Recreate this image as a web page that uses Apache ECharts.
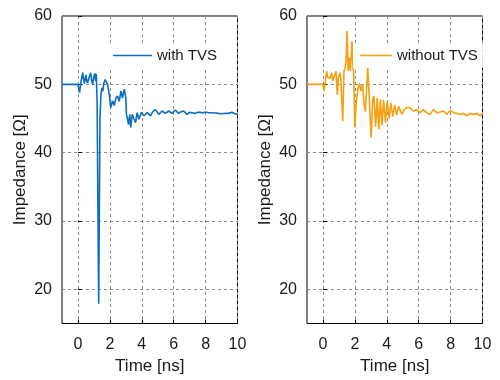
<!DOCTYPE html>
<html><head><meta charset="utf-8">
<script src="https://cdn.jsdelivr.net/npm/echarts@6/dist/echarts.min.js"></script>
<style>html,body{margin:0;padding:0;background:#fff}#c{width:500px;height:380px}</style>
</head><body><div id="c"></div>
<script>
const leftTime = [-1,0,0.05,0.1,0.2,0.3,0.35,0.4,0.5,0.55,0.6,0.7,0.8,0.85,0.92,0.98,1.05,1.1,1.15,1.2,1.3,1.38,1.44,1.5,1.56,1.62,1.71,1.78,1.86,1.96,2.06,2.17,2.27,2.38,2.48,2.59,2.69,2.79,2.9,3.0,3.04,3.1,3.17,3.25,3.31,3.4,3.5,3.61,3.71,3.82,3.98,4.13,4.34,4.54,4.7,4.86,5.06,5.27,5.48,5.69,5.9,6.1,6.31,6.47,6.63,6.83,7.0,7.15,7.35,7.5,7.67,7.82,7.98,8.2,8.4,8.6,8.8,9.02,9.25,9.44,9.65,9.85,10];
const leftZ = [50,50,50,48.8,50.5,51.7,50.8,50.1,51.4,50.5,50.2,51.0,51.7,50.6,50.0,51.0,51.6,50.5,51.5,47.5,17.9,45,48.5,49.5,49.0,50.2,50.7,50.3,50.0,48.5,46.6,47.6,46.9,48.0,48.3,47.5,49.0,48.0,49.3,48.0,45.6,45.0,44.1,45.6,43.7,45.6,45.0,44.4,45.85,44.9,45.9,45.4,45.85,45.4,46.0,46.3,45.6,46.1,45.75,46.1,45.75,46.25,45.75,46.0,46.1,45.6,45.9,45.85,45.75,45.9,45.9,45.8,45.95,45.85,45.85,45.8,45.75,45.7,45.75,45.75,45.9,45.7,45.6];
const rightTime = [-1,0,0.06,0.15,0.23,0.3,0.37,0.44,0.5,0.55,0.6,0.65,0.72,0.76,0.82,0.9,0.96,1.01,1.07,1.12,1.17,1.24,1.32,1.4,1.45,1.51,1.58,1.65,1.72,1.82,1.88,1.93,2.0,2.08,2.2,2.3,2.38,2.48,2.58,2.66,2.81,2.9,3.02,3.12,3.2,3.3,3.4,3.5,3.6,3.7,3.8,3.92,4.03,4.15,4.25,4.38,4.5,4.62,4.75,4.85,4.95,5.03,5.24,5.45,5.66,5.87,6.08,6.29,6.5,6.71,6.92,7.13,7.34,7.55,7.76,7.97,8.18,8.39,8.6,8.81,9.02,9.23,9.44,9.65,9.86,10];
const rightZ = [50,50,49.0,50.5,51.9,51.0,51.2,50.9,51.3,51.7,50.5,50.7,51.3,51.4,51.9,48.5,50.9,51.0,51.7,51.0,51.2,44.6,51.9,52.5,53.5,57.8,52.0,53.9,51.9,56.3,52.5,51.5,43.7,47.1,49.5,50.1,49.0,50.0,47.1,46.0,52.5,48.0,42.2,47.8,48.3,43.8,48.0,43.4,47.8,44.0,47.7,44.4,47.5,45.0,47.3,45.3,47.0,45.5,46.8,47.0,45.6,46.1,46.6,46.6,46.1,46.3,45.85,46.3,45.85,45.6,46.3,45.85,45.95,46.1,45.6,46.2,45.85,45.75,45.6,45.75,45.4,45.75,45.6,45.75,45.4,45.75];
const xTicks = [0,2,4,6,8,10];
const yTicks = [20,30,40,50,60];
const seriesNames = ['with TVS','without TVS'];
const seriesColors = ['#0b6fbd','#f5a00f'];
const xName = 'Time [ns]';
const yName = 'Impedance [Ω]';

const zip = (a,b) => a.slice(0, Math.min(a.length,b.length)).map((v,i)=>[v,b[i]]);
const font = 'Liberation Sans, Arial, Helvetica, sans-serif';
const txt = '#1a1a1a';
const gridLine = {show:true, lineStyle:{color:'#8a8a8a', type:[3,3], width:1}};

function xAxis(gi){
  return {type:'value', gridIndex:gi, min:-1, max:10,
    name:xName, nameLocation:'middle', nameGap:31,
    nameTextStyle:{fontSize:17, color:txt, fontFamily:font},
    axisLine:{show:false}, axisTick:{show:true, inside:true, length:4, customValues:xTicks, lineStyle:{color:'#000'}},
    axisLabel:{customValues:xTicks, fontSize:16, color:txt, fontFamily:font, margin:13},
    splitLine:Object.assign({customValues:xTicks}, gridLine)};
}
function yAxis(gi){
  return {type:'value', gridIndex:gi, min:15, max:60,
    name:yName, nameLocation:'middle', nameGap:33,
    nameTextStyle:{fontSize:17, color:txt, fontFamily:font},
    axisLine:{show:false}, axisTick:{show:true, inside:true, length:4, customValues:yTicks, lineStyle:{color:'#000'}},
    axisLabel:{customValues:yTicks, fontSize:16, color:txt, fontFamily:font, margin:10},
    splitLine:Object.assign({customValues:yTicks}, gridLine)};
}

const chart = echarts.init(document.getElementById('c'), null, {renderer:'canvas'});
chart.setOption({
  animation:false,
  backgroundColor:'#fff',
  grid:[
    {left:62, top:16, width:175.5, height:307.5, show:true, borderColor:'#000', borderWidth:1, backgroundColor:'transparent'},
    {left:307, top:16, width:175.5, height:307.5, show:true, borderColor:'#000', borderWidth:1, backgroundColor:'transparent'}
  ],
  xAxis:[xAxis(0), xAxis(1)],
  yAxis:[yAxis(0), yAxis(1)],
  legend:[
    {data:[seriesNames[0]], left:106, top:43, padding:[5,12,5,7], backgroundColor:'#fff', icon:'rect', itemWidth:39, itemHeight:1.6, itemGap:5,
     textStyle:{fontSize:15, color:txt, fontFamily:font}},
    {data:[seriesNames[1]], left:353, top:43, padding:[5,5,5,7], backgroundColor:'#fff', icon:'rect', itemWidth:32, itemHeight:1.6, itemGap:5,
     textStyle:{fontSize:15, color:txt, fontFamily:font}}
  ],
  series:[
    {name:seriesNames[0], type:'line', xAxisIndex:0, yAxisIndex:0, data:zip(leftTime,leftZ), symbol:'none', color:seriesColors[0], lineStyle:{width:1.6, color:seriesColors[0]}},
    {name:seriesNames[1], type:'line', xAxisIndex:1, yAxisIndex:1, data:zip(rightTime,rightZ), symbol:'none', color:seriesColors[1], lineStyle:{width:1.6, color:seriesColors[1]}}
  ]
});
</script></body></html>
